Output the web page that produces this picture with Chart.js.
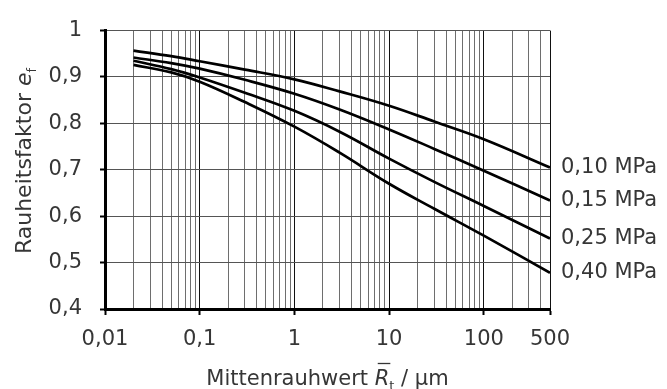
<!DOCTYPE html>
<html>
<head>
<meta charset="utf-8">
<script src="https://cdn.jsdelivr.net/npm/chart.js@4"></script>
<style>
  html, body { margin: 0; padding: 0; background: #fff; }
  #wrap { width: 667px; height: 389px; position: relative; }
</style>
</head>
<body>
<div id="wrap"><canvas id="lineChart"></canvas></div>
<script>
const ctx = document.getElementById('lineChart').getContext('2d');

// Mittenrauhwert in µm (x) und Rauheitsfaktor (y) je Druck
const roughness = [0.02, 0.05, 0.1, 0.3, 1, 3, 10, 30, 100, 500];
const seriesNames = ['0,10 MPa', '0,15 MPa', '0,25 MPa', '0,40 MPa'];
const ef010 = [0.957, 0.945, 0.934, 0.916, 0.895, 0.869, 0.838, 0.804, 0.766, 0.705];
const ef015 = [0.942, 0.930, 0.918, 0.894, 0.864, 0.830, 0.787, 0.745, 0.698, 0.634];
const ef025 = [0.935, 0.917, 0.899, 0.866, 0.827, 0.782, 0.724, 0.674, 0.622, 0.552];
const ef040 = [0.926, 0.910, 0.890, 0.846, 0.793, 0.737, 0.670, 0.616, 0.558, 0.478];

const xTickValues = [0.01, 0.1, 1, 10, 100, 500];
const xTickLabels = ['0,01', '0,1', '1', '10', '100', '500'];
const yTickValues = [0.4, 0.5, 0.6, 0.7, 0.8, 0.9, 1];
const yTickLabels = ['0,4', '0,5', '0,6', '0,7', '0,8', '0,9', '1'];

const FONT = '"DejaVu Sans"';
const textColor = '#363636';

// Gitterlinien 1..9 je Dekade bis 500
const xGrid = [];
for (let e = -2; e <= 2; e++) {
    for (let m = 1; m <= 9; m++) {
        const v = +(m * Math.pow(10, e)).toPrecision(3);
        if (v <= 500) xGrid.push(v);
    }
}

function labelIndex(v) {
    return xTickValues.findIndex(t => Math.abs(t - v) / t < 1e-6);
}

// Text mit Kursiv, Index und Überstrich zeichnen
function drawRuns(c, runs, cx, baseline) {
    let total = 0;
    runs.forEach(r => { c.font = r.font; r.w = c.measureText(r.text).width; total += r.w; });
    let x = cx - total / 2;
    runs.forEach(r => {
        c.font = r.font;
        c.fillText(r.text, x, baseline + (r.dy || 0));
        if (r.overline) {
            c.save();
            c.strokeStyle = textColor;
            c.lineWidth = 1.3;
            c.beginPath();
            c.moveTo(x + 3, baseline - 21.5);
            c.lineTo(x + r.w + 1, baseline - 21.5);
            c.stroke();
            c.restore();
        }
        x += r.w;
    });
}

const textPlugin = {
    id: 'texts',
    afterDraw(chart) {
        const c = chart.ctx;
        const area = chart.chartArea;
        const y = chart.scales.y;
        c.save();
        c.fillStyle = textColor;
        c.textAlign = 'left';

        // Kurvenbeschriftungen
        c.textBaseline = 'middle';
        c.font = '21px ' + FONT;
        chart.data.datasets.forEach((ds, i) => {
            const last = ds.data[ds.data.length - 1];
            c.fillText(seriesNames[i], area.right + 11, y.getPixelForValue(last.y));
        });

        // x-Achsentitel
        c.textBaseline = 'alphabetic';
        drawRuns(c, [
            { text: 'Mittenrauhwert ', font: '21px ' + FONT },
            { text: 'R', font: 'italic 21px ' + FONT, overline: true },
            { text: 't', font: '13px ' + FONT, dy: 5 },
            { text: ' / µm', font: '21px ' + FONT }
        ], (area.left + area.right) / 2, 385);

        // y-Achsentitel
        c.translate(31, 161);
        c.rotate(-Math.PI / 2);
        drawRuns(c, [
            { text: 'Rauheitsfaktor ', font: '22px ' + FONT },
            { text: 'e', font: 'italic 22px ' + FONT },
            { text: 'f', font: '13px ' + FONT, dy: 5 }
        ], 0, 0);
        c.restore();
    }
};

const curves = [ef010, ef015, ef025, ef040];

const chart = new Chart(ctx, {
    type: 'line',
    data: {
        datasets: curves.map((vals, i) => ({
            label: seriesNames[i],
            data: roughness.map((x, j) => ({ x: x, y: vals[j] })),
            borderColor: '#000',
            borderWidth: 2.7,
            pointRadius: 0,
            fill: false,
            tension: 0.4
        }))
    },
    options: {
        responsive: true,
        maintainAspectRatio: false,
        animation: false,
        layout: { padding: { top: 22, right: 117, left: 0, bottom: 0 } },
        plugins: {
            legend: { display: false },
            tooltip: { enabled: false }
        },
        scales: {
            x: {
                type: 'logarithmic',
                min: 0.01,
                max: 500,
                afterBuildTicks: s => { s.ticks = xGrid.map(v => ({ value: v })); },
                afterFit: s => { s.height = 80; },
                border: { color: '#000', width: 3 },
                grid: {
                    color: c => labelIndex(c.tick.value) >= 0 ? '#111' : '#6e6e6e',
                    lineWidth: 1,
                    tickLength: 6,
                    tickColor: c => labelIndex(c.tick.value) >= 0 ? '#000' : 'rgba(0,0,0,0)',
                    tickWidth: 2
                },
                ticks: {
                    autoSkip: false,
                    maxRotation: 0,
                    padding: 12,
                    color: textColor,
                    font: { family: FONT, size: 21 },
                    callback: v => { const k = labelIndex(v); return k >= 0 ? xTickLabels[k] : ''; }
                }
            },
            y: {
                min: 0.4,
                max: 1,
                afterBuildTicks: s => { s.ticks = yTickValues.map(v => ({ value: v })); },
                afterFit: s => { s.width = 105; },
                border: { color: '#000', width: 3 },
                grid: {
                    color: '#555',
                    lineWidth: 1,
                    tickLength: 5,
                    tickColor: '#000',
                    tickWidth: 2
                },
                ticks: {
                    padding: 18,
                    color: textColor,
                    font: { family: FONT, size: 21 },
                    callback: (v, i) => yTickLabels[i]
                }
            }
        }
    },
    plugins: [textPlugin]
});
</script>
</body>
</html>
